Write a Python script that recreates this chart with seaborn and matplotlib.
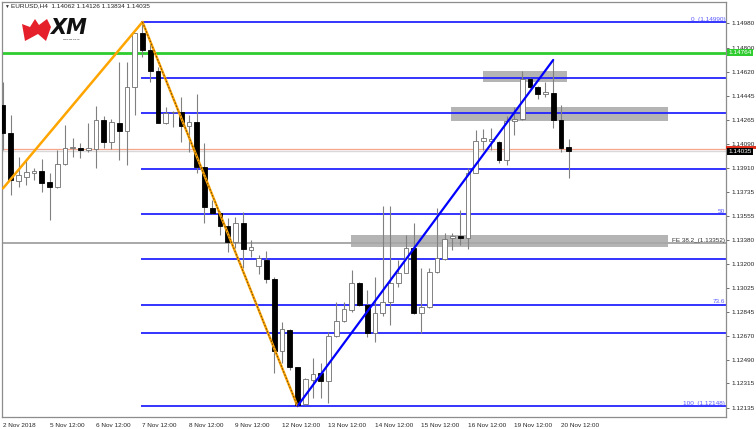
import matplotlib
matplotlib.use("Agg")
import matplotlib.pyplot as plt
from matplotlib.patches import Rectangle, Polygon
import numpy as np
import seaborn as sns

# EURUSD H4 candles (bar 0 = 2 Nov 12:00)
opens = [1.14376, 1.14166, 1.13815, 1.13845, 1.13875, 1.13890, 1.13804, 1.13771, 1.13937, 1.14055,
         1.14060, 1.14043, 1.14048, 1.14265, 1.14104, 1.14245, 1.14186, 1.14507, 1.14906, 1.14783,
         1.14630, 1.14245, 1.14322, 1.14326, 1.14221, 1.14252, 1.13915, 1.13612, 1.13579, 1.13480,
         1.13364, 1.13505, 1.13303, 1.13184, 1.13232, 1.13086, 1.12557, 1.12711, 1.12434, 1.12166,
         1.12343, 1.12390, 1.12335, 1.12666, 1.12777, 1.12859, 1.13061, 1.12896, 1.12690, 1.12834,
         1.12920, 1.13056, 1.13134, 1.13315, 1.12839, 1.12883, 1.13142, 1.13236, 1.13389, 1.13406,
         1.13389, 1.13875, 1.14109, 1.14113, 1.14104, 1.13966, 1.14258, 1.14275, 1.14566, 1.14507,
         1.14455, 1.14465, 1.14265, 1.14062]
highs = [1.14548, 1.14302, 1.13993, 1.13969, 1.13907, 1.13974, 1.13870, 1.14043, 1.14228, 1.14134,
         1.14097, 1.14245, 1.14368, 1.14294, 1.14272, 1.14696, 1.14696, 1.14911, 1.14990, 1.14832,
         1.14659, 1.14359, 1.14334, 1.14433, 1.14302, 1.14457, 1.14092, 1.13673, 1.13593, 1.13537,
         1.13549, 1.13586, 1.13377, 1.13266, 1.13298, 1.13101, 1.12772, 1.12716, 1.12439, 1.12356,
         1.12502, 1.12469, 1.12698, 1.12919, 1.12920, 1.13154, 1.13068, 1.13006, 1.13101, 1.13626,
         1.13626, 1.13229, 1.13414, 1.13500, 1.13167, 1.13167, 1.13611, 1.13426, 1.13426, 1.13598,
         1.13907, 1.14191, 1.14198, 1.14203, 1.14111, 1.14294, 1.14363, 1.14630, 1.14573, 1.14516,
         1.14548, 1.14709, 1.14376, 1.14126]
lows = [1.14043, 1.13710, 1.13771, 1.13784, 1.13821, 1.13734, 1.13525, 1.13761, 1.13932, 1.13993,
        1.13981, 1.14030, 1.13907, 1.14055, 1.14048, 1.13969, 1.13932, 1.14302, 1.14733, 1.14548,
        1.14240, 1.14235, 1.14211, 1.14104, 1.14030, 1.13875, 1.13500, 1.13569, 1.13414, 1.13291,
        1.13315, 1.13167, 1.13253, 1.13125, 1.13061, 1.12390, 1.12463, 1.12414, 1.12148, 1.12155,
        1.12205, 1.12205, 1.12168, 1.12661, 1.12772, 1.12846, 1.12888, 1.12661, 1.12624, 1.12814,
        1.12748, 1.13029, 1.13130, 1.12830, 1.12690, 1.12871, 1.13130, 1.13229, 1.13303, 1.13342,
        1.13308, 1.13870, 1.14043, 1.14043, 1.13947, 1.13932, 1.14153, 1.14265, 1.14500, 1.14417,
        1.14437, 1.14206, 1.14030, 1.13834]
closes = [1.14166, 1.13821, 1.13858, 1.13878, 1.13890, 1.13801, 1.13771, 1.13939, 1.14055, 1.14065,
          1.14043, 1.14055, 1.14265, 1.14104, 1.14248, 1.14186, 1.14507, 1.14906, 1.14783, 1.14630,
          1.14245, 1.14314, 1.14326, 1.14221, 1.14252, 1.13915, 1.13619, 1.13579, 1.13480, 1.13364,
          1.13505, 1.13308, 1.13327, 1.13241, 1.13086, 1.12557, 1.12716, 1.12439, 1.12155, 1.12347,
          1.12384, 1.12335, 1.12666, 1.12777, 1.12864, 1.13061, 1.12896, 1.12690, 1.12834, 1.12920,
          1.13056, 1.13134, 1.13315, 1.12839, 1.12883, 1.13142, 1.13241, 1.13381, 1.13406, 1.13391,
          1.13875, 1.14112, 1.14129, 1.14121, 1.13966, 1.14258, 1.14275, 1.14566, 1.14507, 1.14457,
          1.14474, 1.14265, 1.14055, 1.14035]

date_ticks = [0, 6, 12, 18, 24, 30, 36, 42, 48, 54, 60, 66, 72]
date_labels = ['2 Nov 2018', '5 Nov 12:00', '6 Nov 12:00', '7 Nov 12:00', '8 Nov 12:00',
               '9 Nov 12:00', '12 Nov 12:00', '13 Nov 12:00', '14 Nov 12:00', '15 Nov 12:00',
               '16 Nov 12:00', '19 Nov 12:00', '20 Nov 12:00']
price_ticks = [1.14980, 1.14800, 1.14620, 1.14445, 1.14265, 1.14090, 1.13910, 1.13735, 1.13555,
               1.13380, 1.13200, 1.13025, 1.12845, 1.12670, 1.12490, 1.12315, 1.12135]

# drawing objects
zigzag_bars = [0, 18, 38]
zigzag_prices = [1.13759, 1.14990, 1.12148]
trend_bars = [38, 71]
trend_prices = [1.12148, 1.14709]
fib_high, fib_low, fib_start = 1.14990, 1.12148, 18
fib_levels = [0, 14.6, 23.6, 38.2, 50, 61.8, 73.6, 80.9, 100]
fib_texts = {0: '0  (1.14990)', 50: '50', 73.6: '73.6', 100: '100  (1.12148)'}
green_level = 1.14764
fe_level = 1.13352
bid, ask = 1.14035, 1.14049
zones = [(61.9, 72.8, 1.14548, 1.14630), (57.8, 85.8, 1.14257, 1.14359), (44.9, 85.8, 1.13323, 1.13414)]

sns.set_style('white')
plt.rcParams['font.family'] = ['Liberation Sans', 'DejaVu Sans']
FS = 4.6

W, H = 756, 429
fig = plt.figure(figsize=(W / 100, H / 100), dpi=100)
ax = fig.add_axes([2 / W, 1 - 417 / H, 724 / W, 415 / H])
x_lo, x_hi = -0.13, 93.3
ax.set_xlim(x_lo, x_hi)
ax.set_ylim(1.12067, 1.15138)

# zones behind everything
for b0, b1, p0, p1 in zones:
    ax.add_patch(Rectangle((b0, p0), b1 - b0, p1 - p0, color='#b4b4b4', lw=0, zorder=1))

# horizontal lines
ax.axhline(green_level, color='#2ecc2e', lw=2, zorder=1.5)
ax.axhline(fe_level, color='#a8a8a8', lw=1.4, zorder=1.5)
ax.axhline(ask, color='#f4a58a', lw=0.9, zorder=1.5)
ax.axhline(bid, color='#d8d8d8', lw=1.0, zorder=1.5)
ax.text(x_hi - 0.1, fe_level + 0.00004, 'FE 38.2_(1.13352)', ha='right', va='bottom',
        fontsize=FS, color='#333333', zorder=6)

# fibonacci retracement
for lv in fib_levels:
    p = fib_high - (fib_high - fib_low) * lv / 100
    ax.hlines(p, fib_start - 0.13, x_hi, color='#2323ff', lw=1.3, zorder=1.6)
    if lv in fib_texts:
        ax.text(x_hi - 0.1, p + 0.00003, fib_texts[lv], ha='right', va='bottom',
                fontsize=FS, color='#5a5aff', zorder=6)

# candles
idx = np.arange(len(opens))
o, h, l, c = map(np.array, (opens, highs, lows, closes))
up = c >= o
ax.vlines(idx, l, h, color='#808080', lw=0.8, zorder=3)
body_lo = np.minimum(o, c)
body_h = np.maximum(np.abs(c - o), 0.00003)
ax.bar(idx[up], body_h[up], bottom=body_lo[up], width=0.62, color='white',
       edgecolor='#6e6e6e', linewidth=0.6, zorder=3.5)
ax.bar(idx[~up], body_h[~up], bottom=body_lo[~up], width=0.62, color='black',
       edgecolor='black', linewidth=0.6, zorder=3.5)

# zigzag and trend line
sns.lineplot(x=zigzag_bars, y=zigzag_prices, ax=ax, color='#ffa500', lw=1.8, zorder=4)
ax.plot(zigzag_bars[1:], zigzag_prices[1:], color='#5a3a10', lw=0.6, ls=(0, (2, 2)), zorder=4.1)
sns.lineplot(x=trend_bars, y=trend_prices, ax=ax, color='#0000ff', lw=1.6, zorder=4)

# axes
ax.yaxis.tick_right()
ax.set_yticks(price_ticks)
ax.set_yticklabels([f'{p:.5f}' for p in price_ticks], fontsize=FS)
ax.set_xticks(date_ticks)
ax.set_xticklabels(date_labels, fontsize=FS, ha='left')
ax.tick_params(axis='both', direction='out', length=2.5, width=0.6, color='#555555', pad=2)
ax.tick_params(axis='y', pad=1.5)
ax.set_xlabel('')
ax.set_ylabel('')
for s in ax.spines.values():
    s.set_color('#8c8c8c')
    s.set_linewidth(0.9)

# price tags on the scale
tr = ax.get_yaxis_transform()
ax.add_patch(Rectangle((1.0, ask), 30 / 724, 0.00022, transform=tr, fc='#e0301e', ec='none',
                       zorder=7, clip_on=False))
ax.text(1.003, bid, f'{bid:.5f}', transform=tr, fontsize=FS, color='white', va='center', ha='left',
        bbox=dict(boxstyle='square,pad=0.15', fc='black', ec='none'), zorder=8, clip_on=False)
ax.text(1.003, green_level, f'{green_level:.5f}', transform=tr, fontsize=FS, color='white',
        va='center', ha='left', bbox=dict(boxstyle='square,pad=0.15', fc='#2ecc2e', ec='none'),
        zorder=8, clip_on=False)

# header and logo
fig.text(4 / W, 1 - 6 / H, '\u25bc', fontsize=3.5, va='center', ha='left', color='#333333')
fig.text(11 / W, 1 - 6 / H, 'EURUSD,H4  1.14062 1.14126 1.13834 1.14035', fontsize=FS,
         va='center', ha='left', color='#222222')
logo = [(25, 41), (22, 24), (30, 27), (35, 19), (39, 25), (47, 19), (51, 27), (46, 41), (38, 34)]
fig.patches.append(Polygon([(x / W, 1 - y / H) for x, y in logo], closed=True,
                           transform=fig.transFigure, fc='#e5202a', ec='none', zorder=5))
fig.text(50 / W, 1 - 28 / H, 'XM', fontsize=15, fontweight='bold', fontstyle='italic',
         va='center', ha='left', color='#111111', family=['DejaVu Sans'])
fig.text(63 / W, 1 - 40 / H, 'WWW.XM.CO.UK', fontsize=1.6, va='center', ha='left', color='#111111')

fig.savefig('out.png', dpi=100)
